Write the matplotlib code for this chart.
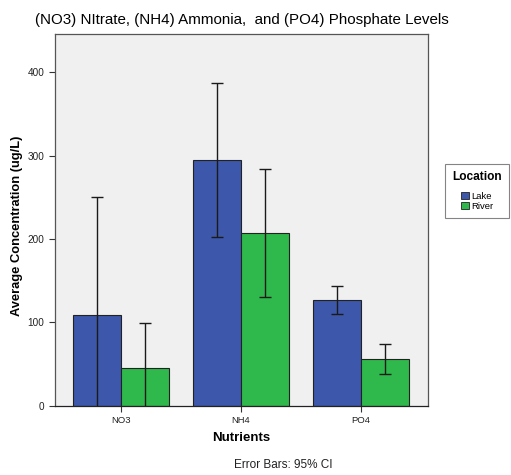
import numpy as np
import matplotlib
matplotlib.use('Agg')
import matplotlib.pyplot as plt
from matplotlib.patches import Patch

plt.rcParams['font.family'] = ['Liberation Sans', 'DejaVu Sans']

# ── data ──
nutrients = ['NO3', 'NH4', 'PO4']
locations = ['Lake', 'River']
lake_mean = [108.7, 294.5, 126.7]
lake_ci_lo = [-32.6, 202.4, 110.3]
lake_ci_hi = [250.0, 386.6, 143.5]
river_mean = [45.0, 207.2, 55.5]
river_ci_lo = [-9.0, 130.3, 37.5]
river_ci_hi = [99.0, 284.5, 73.9]
y_ticks = [0, 100, 200, 300, 400]

COLORS = {'Lake': '#3d57aa', 'River': '#2fb84b'}

fig = plt.figure(figsize=(5.11, 4.75), dpi=100)
ax = fig.add_axes([0.1076, 0.1463, 0.7300, 0.7821])
ax.set_facecolor('#f0f0f0')

x = np.arange(len(nutrients))
w = 0.4
series = [
    ('Lake', lake_mean, lake_ci_lo, lake_ci_hi, -w / 2),
    ('River', river_mean, river_ci_lo, river_ci_hi, w / 2),
]
for name, mean, lo, hi, off in series:
    mean = np.array(mean)
    err = np.vstack([mean - np.array(lo), np.array(hi) - mean])
    ax.bar(x + off, mean, width=w, color=COLORS[name], edgecolor='#222222',
           linewidth=0.8, zorder=2)
    ax.errorbar(x + off, mean, yerr=err, fmt='none', ecolor='#1a1a1a',
                elinewidth=1.0, capsize=4.3, capthick=1.0, zorder=3)

ax.set_xlim(-0.55, 2.56)
ax.set_ylim(0, 446)
ax.set_xticks(x)
ax.set_xticklabels(nutrients, fontsize=6.8)
ax.set_yticks(y_ticks)
ax.set_yticklabels([str(t) for t in y_ticks], fontsize=7.2)
ax.tick_params(axis='both', direction='out', length=4, width=0.8, colors='#333333',
               labelcolor='#222222')
for s in ax.spines.values():
    s.set_color('#555555')
    s.set_linewidth(0.9)
ax.spines['bottom'].set_color('#222222')

ax.set_xlabel('Nutrients', fontsize=9.5, fontweight='bold')
ax.xaxis.set_label_coords(0.5, -0.0714)
ax.set_ylabel('Average Concentration (ug/L)', fontsize=9.3, fontweight='bold')
ax.yaxis.set_label_coords(-0.085, 0.485)
ax.set_title('(NO3) NItrate, (NH4) Ammonia,  and (PO4) Phosphate Levels',
             fontsize=10.9, pad=7)

handles = [Patch(facecolor=COLORS[n], edgecolor='#222222', linewidth=0.6, label=n)
           for n in locations]
leg = fig.legend(handles=handles, title='Location', loc='upper left',
                 bbox_to_anchor=(0.862, 0.664), fontsize=6.8, title_fontsize=8.6,
                 frameon=True, fancybox=False, edgecolor='#666666',
                 handlelength=0.8, handleheight=0.8, handletextpad=0.2,
                 labelspacing=0.15, borderpad=0.75)
leg.get_title().set_fontweight('bold')
leg.get_frame().set_linewidth(0.8)
leg._legend_box.sep = 6

fig.text(283 / 511, 1 - 465 / 475, 'Error Bars: 95% CI', fontsize=8.5,
         ha='center', va='center', color='#222222')

fig.savefig('out.png', dpi=100)
